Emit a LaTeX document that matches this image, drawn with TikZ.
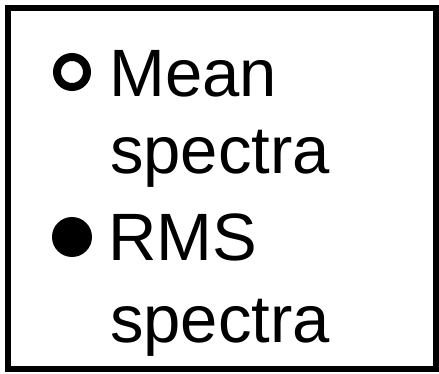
\documentclass[tikz,border=0pt]{standalone}
\usepackage{fontspec}
\setmainfont{Liberation Sans}
\begin{document}
\begin{tikzpicture}[x=1pt,y=-1pt,
  lbl/.style={anchor=base west,inner sep=0pt,font=\fontsize{67}{67}\selectfont},
  frame/.style={draw=black,line width=6pt}]
\useasboundingbox (0,0) rectangle (439,374);
\fill[white] (0,0) rectangle (439,374);
\node[frame,minimum width=428pt,minimum height=361pt,inner sep=0pt] (box) at (222,188.5) {};
\draw[line width=8pt] (72,72) circle[radius=15] coordinate (mk1);
\fill (72,237) circle[radius=20] coordinate (mk2);
\node[lbl] (t1) at (109,97) {Mean};
\node[lbl] (t2) at (110,174) {spectra};
\node[lbl] (t3) at (108,260) {RMS};
\node[lbl] (t4) at (110,342) {spectra};
\end{tikzpicture}
\end{document}
